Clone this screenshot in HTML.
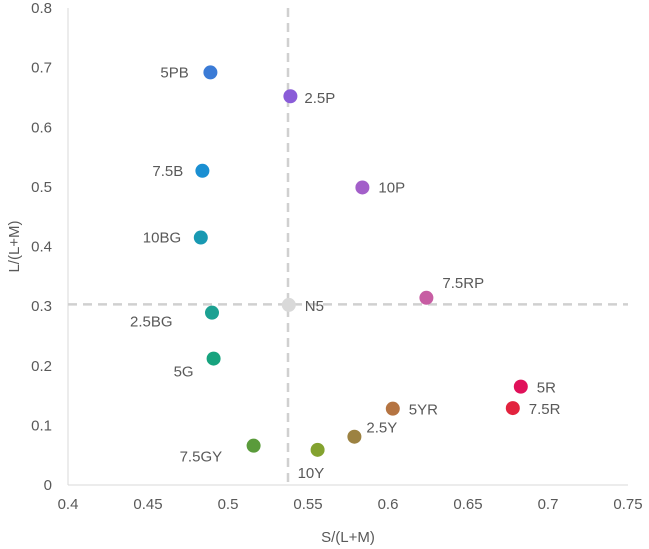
<!DOCTYPE html>
<html><head><meta charset="utf-8"><style>
body{margin:0;background:#fff;}
svg{display:block;font-family:"Liberation Sans",sans-serif;}
</style></head><body>
<svg id="chart" width="649" height="549"></svg>
<script>
const labels=["5PB","2.5P","7.5B","10P","10BG","7.5RP","N5","2.5BG","5G","5R","5YR","7.5R","2.5Y","7.5GY","10Y"];
const xVals=[0.489,0.539,0.484,0.584,0.483,0.624,0.538,0.490,0.491,0.683,0.603,0.678,0.579,0.516,0.556];
const yVals=[0.692,0.652,0.527,0.499,0.415,0.314,0.302,0.289,0.212,0.165,0.128,0.129,0.081,0.066,0.059];
const colors=["#3b7bd6","#8a5cd8","#1a8fd2","#a35fc9","#1899b2","#c75da3","#d9d9d9","#1ca192","#17a37e","#e0115a","#b57442","#e2233e","#9c8241","#5a9b3b","#83a22f"];
const xTicks=[0.4,0.45,0.5,0.55,0.6,0.65,0.7,0.75];
const yTicks=[0,0.1,0.2,0.3,0.4,0.5,0.6,0.7,0.8];
const refX=0.5375, refY=0.303;
const labelOffsets=[[-50,5],[14,7],[-50,5],[16,5],[-58,5],[16,-10],[16,6],[-82,14],[-40,18],[16,6],[16,6],[16,6],[12,-4],[-74,16],[-20,28]];
const L=68,R=628,T=8,B=485;
const sx=v=>L+(v-0.4)/0.35*(R-L);
const sy=v=>B-v/0.8*(B-T);
const svg=document.getElementById('chart');
const NS='http://www.w3.org/2000/svg';
function mk(tag,attrs,parent){const e=document.createElementNS(NS,tag);for(const k in attrs)e.setAttribute(k,attrs[k]);(parent||svg).appendChild(e);return e;}
let e;
e=mk('line',{x1:L,y1:T,x2:L,y2:B,stroke:'#d9d9d9','stroke-width':1});


e=mk('line',{x1:L,y1:B,x2:R,y2:B,stroke:'#d9d9d9','stroke-width':1});


xTicks.forEach(t=>{e=mk('text',{x:sx(t),y:B+24,'text-anchor':'middle','font-size':15,fill:'#595959'});e.textContent=String(t);

});
yTicks.forEach(t=>{e=mk('text',{x:L-16,y:sy(t)+5,'text-anchor':'end','font-size':15,fill:'#595959'});e.textContent=String(t);

});
e=mk('line',{x1:sx(refX),y1:T,x2:sx(refX),y2:B,stroke:'#d0d0d0','stroke-width':2.5,'stroke-dasharray':'9,6'});


e=mk('line',{x1:L,y1:sy(refY),x2:R,y2:sy(refY),stroke:'#d0d0d0','stroke-width':2.5,'stroke-dasharray':'9,6'});


labels.forEach((lb,i)=>{
 const cx=sx(xVals[i]),cy=sy(yVals[i]);
 e=mk('circle',{cx:cx,cy:cy,r:7,fill:colors[i]});
 
 
 e=mk('text',{x:cx+labelOffsets[i][0],y:cy+labelOffsets[i][1],'font-size':15,fill:'#595959'});
 e.textContent=lb;
 
 
});
e=mk('text',{x:(L+R)/2,y:542,'text-anchor':'middle','font-size':15,fill:'#595959'});e.textContent='S/(L+M)';


e=mk('text',{x:0,y:0,'text-anchor':'middle','font-size':15,fill:'#595959',transform:'translate(19,'+((T+B)/2)+') rotate(-90)'});e.textContent='L/(L+M)';


</script>
</body></html>
